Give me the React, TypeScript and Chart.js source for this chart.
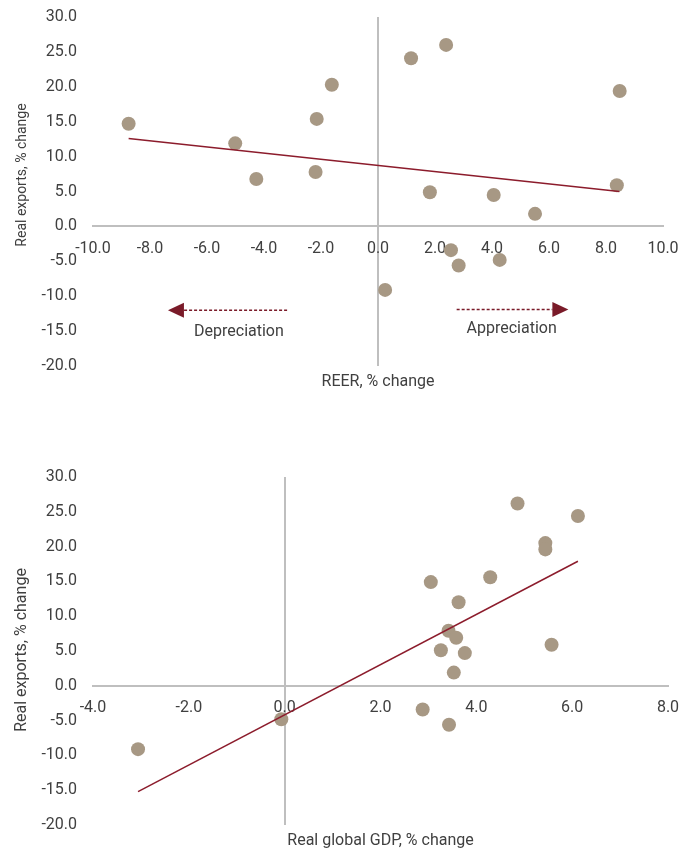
import { useEffect, useRef } from "react";
import { Chart, registerables } from "chart.js";

Chart.register(...registerables);

const FONT = "Roboto, 'Noto Sans', sans-serif";
const TEXT = "#404040";
const AXIS = "#BFBFBF";
const POINT = "#A79884";
const TREND = "#8C1C2C";
const ARROW = "#7A1B29";

// ---- Top chart: REER vs real exports ----
const reerChange = [-8.75, -5.01, -4.27, -2.15, -2.19, -1.62, 1.16, 2.39, 1.82, 2.56, 2.83, 4.06, 4.27, 5.51, 8.48, 8.38, 0.25];
const reerExports = [14.7, 11.9, 6.8, 15.4, 7.8, 20.3, 24.1, 26.0, 4.9, -3.4, -5.6, 4.5, -4.8, 1.8, 19.4, 5.9, -9.1];
const reerTrendX = [-8.75, 8.47];
const reerTrendY = [12.6, 5.0];
const reerXTicks = { min: -10, max: 10, step: 2 };

// ---- Bottom chart: real global GDP vs real exports ----
const gdpChange = [4.86, 6.12, 5.44, 5.44, 3.05, 4.29, 3.63, 3.42, 3.58, 3.26, 3.76, 5.57, 3.53, 2.88, 3.43, -0.07, -3.06];
const gdpExports = [26.2, 24.4, 20.5, 19.6, 14.9, 15.6, 12.0, 7.9, 6.9, 5.1, 4.7, 5.9, 1.9, -3.4, -5.6, -4.8, -9.1];
const gdpTrendX = [-3.06, 6.12];
const gdpTrendY = [-15.2, 17.9];
const gdpXTicks = { min: -4, max: 8, step: 2 };

const yTicks = { min: -20, max: 30, step: 5 };

// arrows: [from, tip] on x, at y; label at (labelX, labelY)
const arrowLabels = ["Depreciation", "Appreciation"];
const arrowFrom = [-3.19, 2.76];
const arrowTip = [-7.37, 6.68];
const arrowY = [-12.0, -11.9];
const arrowLabelX = [-4.88, 4.69];
const arrowLabelY = [-15.2, -14.7];

const overlayPlugin = {
  id: "overlay",
  afterDraw(chart: any, _args: any, o: any) {
    const ctx = chart.ctx as CanvasRenderingContext2D;
    const { left, right, bottom } = chart.chartArea;
    const xs = chart.scales.x;
    const ys = chart.scales.y;
    ctx.save();
    ctx.fillStyle = TEXT;
    ctx.textAlign = "center";
    ctx.textBaseline = "middle";
    ctx.font = `16px ${FONT}`;
    ctx.fillText(o.xTitle, (left + right) / 2, bottom + o.xTitleGap);
    ctx.save();
    ctx.translate(o.yTitleX, o.yTitleY);
    ctx.rotate(-Math.PI / 2);
    ctx.font = `${o.yTitleSize}px ${FONT}`;
    ctx.fillText(o.yTitle, 0, 0);
    ctx.restore();

    if (o.arrows) {
      arrowLabels.forEach((label, i) => {
        const x0 = xs.getPixelForValue(arrowFrom[i]);
        const xt = xs.getPixelForValue(arrowTip[i]);
        const y = ys.getPixelForValue(arrowY[i]);
        const dir = xt > x0 ? 1 : -1;
        const headLen = 16;
        const headHalf = 7.5;
        const xb = xt - dir * headLen;
        ctx.strokeStyle = ARROW;
        ctx.lineWidth = 1.5;
        ctx.setLineDash([3, 2]);
        ctx.beginPath();
        ctx.moveTo(x0, y);
        ctx.lineTo(xb, y);
        ctx.stroke();
        ctx.setLineDash([]);
        ctx.fillStyle = ARROW;
        ctx.beginPath();
        ctx.moveTo(xt, y);
        ctx.lineTo(xb, y - headHalf);
        ctx.lineTo(xb, y + headHalf);
        ctx.closePath();
        ctx.fill();
        ctx.fillStyle = TEXT;
        ctx.font = `16px ${FONT}`;
        ctx.fillText(label, xs.getPixelForValue(arrowLabelX[i]), ys.getPixelForValue(arrowLabelY[i]));
      });
    }
    ctx.restore();
  },
};

function buildConfig(p: {
  xs: number[];
  ys: number[];
  tx: number[];
  ty: number[];
  xr: { min: number; max: number; step: number };
  padding: { left: number; right: number; top: number; bottom: number };
  xTitle: string;
  yTitleY: number;
  yTitleSize: number;
  arrows: boolean;
}): any {
  return {
    type: "scatter",
    data: {
      datasets: [
        {
          type: "scatter",
          data: p.tx.map((x, i) => ({ x, y: p.ty[i] })),
          showLine: true,
          borderColor: TREND,
          borderWidth: 1.5,
          pointRadius: 0,
          order: 0,
        },
        {
          type: "scatter",
          data: p.xs.map((x, i) => ({ x, y: p.ys[i] })),
          backgroundColor: POINT,
          borderWidth: 0,
          pointRadius: 7,
          order: 1,
        },
      ],
    },
    options: {
      responsive: false,
      animation: false,
      events: [],
      layout: { padding: p.padding },
      plugins: {
        legend: { display: false },
        tooltip: { enabled: false },
        overlay: {
          xTitle: p.xTitle,
          xTitleGap: 16,
          yTitle: "Real exports, % change",
          yTitleX: 22,
          yTitleY: p.yTitleY,
          yTitleSize: p.yTitleSize,
          arrows: p.arrows,
        },
      },
      scales: {
        x: {
          type: "linear",
          position: { y: 0 },
          min: p.xr.min,
          max: p.xr.max,
          ticks: {
            stepSize: p.xr.step,
            padding: 13,
            color: TEXT,
            font: { family: FONT, size: 16 },
            callback: (v: number) => Number(v).toFixed(1),
          },
          grid: {
            drawTicks: false,
            lineWidth: 2,
            color: (c: any) => (c.tick && c.tick.value === 0 ? AXIS : "rgba(0,0,0,0)"),
          },
          border: { display: true, color: AXIS, width: 2 },
        },
        y: {
          type: "linear",
          position: "left",
          min: yTicks.min,
          max: yTicks.max,
          afterFit: (s: any) => {
            s.width = 93;
            s.paddingTop = 0;
            s.paddingBottom = 0;
          },
          ticks: {
            stepSize: yTicks.step,
            padding: 16,
            color: TEXT,
            font: { family: FONT, size: 16 },
            callback: (v: number) => Number(v).toFixed(1),
          },
          grid: { display: false, drawTicks: false },
          border: { display: false },
        },
      },
    },
    plugins: [overlayPlugin],
  };
}

export default function App() {
  const topRef = useRef<HTMLCanvasElement>(null);
  const botRef = useRef<HTMLCanvasElement>(null);

  useEffect(() => {
    const top = new Chart(
      topRef.current!,
      buildConfig({
        xs: reerChange,
        ys: reerExports,
        tx: reerTrendX,
        ty: reerTrendY,
        xr: reerXTicks,
        padding: { left: 0, right: 30, top: 17, bottom: 54 },
        xTitle: "REER, % change",
        yTitleY: 175,
        yTitleSize: 14,
        arrows: true,
      })
    );
    const bot = new Chart(
      botRef.current!,
      buildConfig({
        xs: gdpChange,
        ys: gdpExports,
        tx: gdpTrendX,
        ty: gdpTrendY,
        xr: gdpXTicks,
        padding: { left: 0, right: 25, top: 49, bottom: 23 },
        xTitle: "Real global GDP, % change",
        yTitleY: 222,
        yTitleSize: 16,
        arrows: false,
      })
    );
    return () => {
      top.destroy();
      bot.destroy();
    };
  }, []);

  return (
    <div style={{ position: "absolute", left: 0, top: 0, width: 693, height: 848, background: "#fff" }}>
      <canvas ref={topRef} width={693} height={420} style={{ position: "absolute", left: 0, top: 0 }} />
      <canvas ref={botRef} width={693} height={420} style={{ position: "absolute", left: 0, top: 428 }} />
    </div>
  );
}
